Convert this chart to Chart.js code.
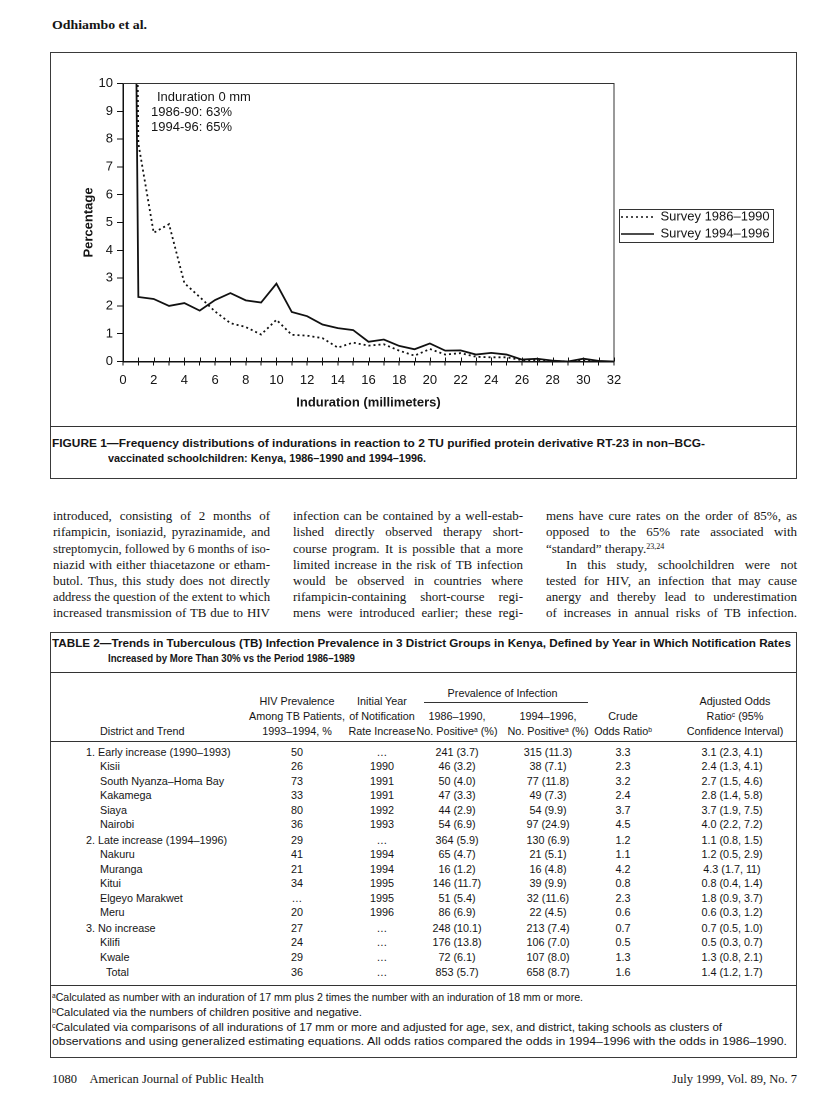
<!DOCTYPE html>
<html><head><meta charset="utf-8">
<script src="https://cdn.jsdelivr.net/npm/chart.js@4.4.0/dist/chart.umd.min.js"></script>
<style>
html,body{margin:0;padding:0;background:#fff;}
#page{position:relative;width:816px;height:1113px;overflow:hidden;background:#fff;color:#151515;}
.abs{position:absolute;white-space:nowrap;}
.frame{position:absolute;border:1.3px solid #3a3a3a;box-sizing:border-box;}
.rule{position:absolute;height:0;border-top:1px solid #333;}
sup{font-size:0.62em;vertical-align:0.5em;line-height:0;}
canvas{position:absolute;}
</style></head>
<body><div id="page">
<div class="frame" id="figbox"></div>
<div class="frame" id="tabbox"></div>
<canvas id="chart"></canvas>
</div>
<script>
// ---------------- DATA ----------------
const indurationMm = [0,1,2,3,4,5,6,7,8,9,10,11,12,13,14,15,16,17,18,19,20,21,22,23,24,25,26,27,28,29,30,31,32];
const survey8690 = [63,7.85,4.63,4.94,2.82,2.32,1.8,1.38,1.24,0.97,1.5,0.96,0.93,0.84,0.5,0.68,0.57,0.62,0.39,0.21,0.45,0.25,0.3,0.17,0.15,0.15,0.05,0.04,0.02,0,0.03,0,0];
const survey9496 = [65,2.32,2.25,2.0,2.1,1.83,2.21,2.46,2.2,2.12,2.8,1.78,1.63,1.33,1.2,1.13,0.71,0.79,0.56,0.44,0.65,0.39,0.4,0.25,0.31,0.25,0.07,0.1,0.03,0,0.1,0.02,0];
const seriesNames = ["Survey 1986\u20131990","Survey 1994\u20131996"];
const yTicks = [0,1,2,3,4,5,6,7,8,9,10];
const xTickLabels = [0,2,4,6,8,10,12,14,16,18,20,22,24,26,28,30,32];

const districts = ["1. Early increase (1990\u20131993)","Kisii","South Nyanza\u2013Homa Bay","Kakamega","Siaya","Nairobi",
 "2. Late increase (1994\u20131996)","Nakuru","Muranga","Kitui","Elgeyo Marakwet","Meru",
 "3. No increase","Kilifi","Kwale","Total"];
const hivPrev = ["50","26","73","33","80","36","29","41","21","34","\u2026","20","27","24","29","36"];
const initYear = ["\u2026","1990","1991","1991","1992","1993","\u2026","1994","1994","1995","1995","1996","\u2026","\u2026","\u2026","\u2026"];
const pos8690 = ["241 (3.7)","46 (3.2)","50 (4.0)","47 (3.3)","44 (2.9)","54 (6.9)","364 (5.9)","65 (4.7)","16 (1.2)","146 (11.7)","51 (5.4)","86 (6.9)","248 (10.1)","176 (13.8)","72 (6.1)","853 (5.7)"];
const pos9496 = ["315 (11.3)","38 (7.1)","77 (11.8)","49 (7.3)","54 (9.9)","97 (24.9)","130 (6.9)","21 (5.1)","16 (4.8)","39 (9.9)","32 (11.6)","22 (4.5)","213 (7.4)","106 (7.0)","107 (8.0)","658 (8.7)"];
const crudeOR = ["3.3","2.3","3.2","2.4","3.7","4.5","1.2","1.1","4.2","0.8","2.3","0.6","0.7","0.5","1.3","1.6"];
const adjOR = ["3.1 (2.3, 4.1)","2.4 (1.3, 4.1)","2.7 (1.5, 4.6)","2.8 (1.4, 5.8)","3.7 (1.9, 7.5)","4.0 (2.2, 7.2)","1.1 (0.8, 1.5)","1.2 (0.5, 2.9)","4.3 (1.7, 11)","0.8 (0.4, 1.4)","1.8 (0.9, 3.7)","0.6 (0.3, 1.2)","0.7 (0.5, 1.0)","0.5 (0.3, 0.7)","1.3 (0.8, 2.1)","1.4 (1.2, 1.7)"];

const col1Lines = ["introduced, consisting of 2 months of","rifampicin, isoniazid, pyrazinamide, and","streptomycin, followed by 6 months of iso-","niazid with either thiacetazone or etham-","butol. Thus, this study does not directly","address the question of the extent to which","increased transmission of TB due to HIV"];
const col2Lines = ["infection can be contained by a well-estab-","lished directly observed therapy short-","course program. It is possible that a more","limited increase in the risk of TB infection","would be observed in countries where","rifampicin-containing short-course regi-","mens were introduced earlier; these regi-"];
const col3Lines = ["mens have cure rates on the order of 85%, as","opposed to the 65% rate associated with","\u201cstandard\u201d therapy.<sup>23,24</sup>","In this study, schoolchildren were not","tested for HIV, an infection that may cause","anergy and thereby lead to underestimation","of increases in annual risks of TB infection."];

// ---------------- LAYOUT HELPERS ----------------
const SANS = "'Liberation Sans', Arial, Helvetica, sans-serif";
const SERIF = "'Liberation Serif', 'Times New Roman', serif";
const page = document.getElementById('page');
function T(html, x, cy, o) {
  o = o || {};
  const d = document.createElement('div');
  d.className = 'abs';
  d.innerHTML = html;
  const size = o.size || 11;
  const lh = size * 1.2;
  d.style.font = (o.weight || 'normal') + ' ' + size + 'px ' + (o.family || SANS);
  d.style.lineHeight = lh + 'px';
  d.style.top = (cy - lh / 2) + 'px';
  d.style.left = '0px';
  page.appendChild(d);
  const w = d.getBoundingClientRect().width;
  let left = x;
  if (o.w) {
    d.style.transformOrigin = '0 50%';
    d.style.transform = 'scaleX(' + (o.w / w) + ')';
  } else if (o.align === 'center') left = x - w / 2;
  else if (o.align === 'right') left = x - w;
  d.style.left = left + 'px';
  return d;
}
function J(html, x, cy, w, size, justify) {
  const d = T(html, x, cy, {size: size, family: SERIF});
  const nw = d.getBoundingClientRect().width;
  const spaces = (d.textContent.match(/ /g) || []).length;
  if (nw > w) { d.style.transformOrigin = '0 50%'; d.style.transform = 'scaleX(' + (w / nw) + ')'; }
  else if (justify && spaces > 0) d.style.wordSpacing = ((w - nw) / spaces) + 'px';
  return d;
}
function box(el, l, t, r, b) { Object.assign(el.style, {left: l + 'px', top: t + 'px', width: (r - l) + 'px', height: (b - t) + 'px'}); }
function rule(l, r, y, c) { const d = document.createElement('div'); d.className = 'rule'; Object.assign(d.style, {left: l + 'px', width: (r - l) + 'px', top: y + 'px'}); if (c) d.style.borderTopColor = c; page.appendChild(d); }

// ---------------- PAGE TEXT ----------------
T("Odhiambo et al.", 52, 25, {size: 13.5, weight: 'bold', family: SERIF, w: 95});
box(document.getElementById('figbox'), 50, 52, 797, 479);
box(document.getElementById('tabbox'), 50, 632, 797, 1058);

// chart annotation
T("Induration 0 mm", 157, 97, {size: 13});
T("1986-90: 63%", 151, 112, {size: 13});
T("1994-96: 65%", 151, 127, {size: 13});

// figure caption
rule(50, 797, 426);
T("FIGURE 1\u2014Frequency distributions of indurations in reaction to 2 TU purified protein derivative RT-23 in non\u2013BCG-", 52, 444, {size: 11, weight: 'bold', w: 653});
T("vaccinated schoolchildren: Kenya, 1986\u20131990 and 1994\u20131996.", 108, 458.5, {size: 11, weight: 'bold', w: 318});

// body columns
const cols = [[53, 270, col1Lines], [293, 523, col2Lines], [546, 797, col3Lines]];
cols.forEach(function (c, ci) {
  c[2].forEach(function (ln, i) {
    let x = c[0], w = c[1] - c[0], just = true;
    if (ci === 2 && i === 2) just = false;
    if (ci === 2 && i === 3) { x += 20; w -= 20; }
    J(ln, x, 516 + i * 16.2, w, 13, just);
  });
});

// table
T("TABLE 2\u2014Trends in Tuberculous (TB) Infection Prevalence in 3 District Groups in Kenya, Defined by Year in Which Notification Rates", 52, 644, {size: 11, weight: 'bold', w: 739});
T("Increased by More Than 30% vs the Period 1986\u20131989", 108, 658.5, {size: 11, weight: 'bold', w: 247});
rule(50, 797, 672);
const cx = {hiv: 297, yr: 382, a: 457, b: 548, cr: 623, adj: 732};
const TS = 10.8;
T("Prevalence of Infection", (cx.a + cx.b) / 2, 693, {size: TS, align: 'center'});
rule(424, 588, 702);
T("HIV Prevalence", cx.hiv, 701.5, {size: TS, align: 'center'});
T("Among TB Patients,", cx.hiv, 716.5, {size: TS, align: 'center'});
T("1993\u20131994, %", cx.hiv, 731, {size: TS, align: 'center'});
T("Initial Year", cx.yr, 701.5, {size: TS, align: 'center'});
T("of Notification", cx.yr, 716.5, {size: TS, align: 'center'});
T("Rate Increase", cx.yr, 731, {size: TS, align: 'center'});
T("1986\u20131990,", cx.a, 716.5, {size: TS, align: 'center'});
T("No. Positive<sup>a</sup> (%)", cx.a, 731, {size: TS, align: 'center'});
T("1994\u20131996,", cx.b, 716.5, {size: TS, align: 'center'});
T("No. Positive<sup>a</sup> (%)", cx.b, 731, {size: TS, align: 'center'});
T("Crude", cx.cr, 716.5, {size: TS, align: 'center'});
T("Odds Ratio<sup>b</sup>", cx.cr, 731, {size: TS, align: 'center'});
T("Adjusted Odds", cx.adj + 3, 701.5, {size: TS, align: 'center'});
T("Ratio<sup>c</sup> (95%", cx.adj + 3, 716.5, {size: TS, align: 'center'});
T("Confidence Interval)", cx.adj + 3, 731, {size: TS, align: 'center'});
T("District and Trend", 100, 731, {size: TS});
rule(50, 797, 741);
const rowY = [752, 766.5, 781, 795.5, 810, 824.5, 840, 854.5, 869, 883.5, 898, 912.5, 928, 942.5, 957, 972];
districts.forEach(function (name, i) {
  const y = rowY[i];
  if (/^\d\./.test(name)) T(name, 86, y, {size: TS});
  else if (name === 'Total') T(name, 106, y, {size: TS});
  else T(name, 100, y, {size: TS});
  T(hivPrev[i], cx.hiv, y, {size: TS, align: 'center'});
  T(initYear[i], cx.yr, y, {size: TS, align: 'center'});
  T(pos8690[i], cx.a, y, {size: TS, align: 'center'});
  T(pos9496[i], cx.b, y, {size: TS, align: 'center'});
  T(crudeOR[i], cx.cr, y, {size: TS, align: 'center'});
  T(adjOR[i], cx.adj, y, {size: TS, align: 'center'});
});
rule(50, 797, 985);
T("<sup>a</sup>Calculated as number with an induration of 17 mm plus 2 times the number with an induration of 18 mm or more.", 52, 997.5, {size: TS, w: 531});
T("<sup>b</sup>Calculated via the numbers of children positive and negative.", 52, 1012, {size: TS, w: 310});
T("<sup>c</sup>Calculated via comparisons of all indurations of 17 mm or more and adjusted for age, sex, and district, taking schools as clusters of", 52, 1027, {size: TS, w: 670});
T("observations and using generalized estimating equations. All odds ratios compared the odds in 1994\u20131996 with the odds in 1986\u20131990.", 52, 1041.5, {size: TS, w: 735});

// footer
T("1080&nbsp;&nbsp;&nbsp;&nbsp;American Journal of Public Health", 52, 1079, {size: 12.5, family: SERIF});
T("July 1999, Vol. 89, No. 7", 797, 1079, {size: 12.5, family: SERIF, align: 'right'});

// ---------------- CHART ----------------
const CX = 51, CY = 56, CW = 745, CH = 366;
const cv = document.getElementById('chart');
cv.width = CW; cv.height = CH;
Object.assign(cv.style, {left: CX + 'px', top: CY + 'px', width: CW + 'px', height: CH + 'px'});
const target = {left: 123 - CX, right: 614 - CX, top: 83.5 - CY, bottom: 361.5 - CY};
const LEGEND_ROW1_Y = 217 - CY;   // centre of first legend row (canvas coords)

const legendShift = {
  id: 'legendShift',
  afterUpdate(chart) {
    const lg = chart.legend;
    if (!lg || !lg.legendHitBoxes || !lg.legendHitBoxes.length) return;
    const h0 = lg.legendHitBoxes[0];
    const dy = (LEGEND_ROW1_Y - h0.height / 2) - h0.top;
    const dx = 3;
    lg.top += dy; lg.bottom += dy; lg.left += dx; lg.right += dx;
    lg.legendHitBoxes.forEach(function (h) { h.top += dy; h.left += dx; });
  }
};

const framePlugin = {
  id: 'framePlugin',
  afterDraw(chart) {
    const ctx = chart.ctx, a = chart.chartArea, xs = chart.scales.x;
    ctx.save();
    ctx.strokeStyle = '#333'; ctx.lineWidth = 1;
    ctx.beginPath();
    ctx.moveTo(a.left, a.top); ctx.lineTo(a.right, a.top); ctx.lineTo(a.right, a.bottom);
    ctx.stroke();
    // inner halves of x tick marks (ticks cross the axis)
    ctx.strokeStyle = '#111'; ctx.lineWidth = 1;
    xs.ticks.forEach(function (t) {
      const px = Math.round(xs.getPixelForValue(t.value)) + 0.5;
      ctx.beginPath(); ctx.moveTo(px, a.bottom - 4); ctx.lineTo(px, a.bottom); ctx.stroke();
    });
    // legend frame
    const hb = chart.legend && chart.legend.legendHitBoxes;
    if (hb && hb.length) {
      let l = Infinity, t = Infinity, r = -Infinity, b = -Infinity;
      hb.forEach(function (h) { l = Math.min(l, h.left); t = Math.min(t, h.top); r = Math.max(r, h.left + h.width); b = Math.max(b, h.top + h.height); });
      ctx.strokeStyle = '#333'; ctx.lineWidth = 1;
      ctx.strokeRect(Math.round(l - 2) + 0.5, Math.round(t - 2) + 0.5, Math.round(r - l + 5), Math.round(b - t + 3));
    }
    ctx.restore();
  }
};

Chart.defaults.font.family = SANS;
Chart.defaults.color = '#151515';
const chart = new Chart(cv, {
  type: 'line',
  data: {
    datasets: [
      {label: seriesNames[0], data: indurationMm.map(function (x, i) { return {x: x, y: survey8690[i]}; }),
       borderColor: '#111', borderWidth: 1.8, borderDash: [2, 3], pointRadius: 0, tension: 0, fill: false},
      {label: seriesNames[1], data: indurationMm.map(function (x, i) { return {x: x, y: survey9496[i]}; }),
       borderColor: '#111', borderWidth: 1.8, pointRadius: 0, tension: 0, fill: false}
    ]
  },
  options: {
    responsive: false, animation: false, devicePixelRatio: 2,
    layout: {padding: {left: 0, right: 0, top: 0, bottom: 0}},
    plugins: {
      tooltip: {enabled: false},
      legend: {position: 'right', align: 'center',
        labels: {usePointStyle: true, pointStyle: 'line', pointStyleWidth: 33, padding: 4,
                 font: {size: 13}, color: '#151515',
                 generateLabels: function (ch) {
                   const items = Chart.defaults.plugins.legend.labels.generateLabels(ch);
                   items.forEach(function (it) {
                     const ds = ch.data.datasets[it.datasetIndex];
                     it.lineDash = ds.borderDash || [];
                     it.lineWidth = 1.5;
                     it.strokeStyle = '#111';
                     it.pointStyle = 'line';
                   });
                   return items;
                 }}}
    },
    scales: {
      x: {type: 'linear', min: 0, max: 32,
          grid: {display: true, drawOnChartArea: false, drawTicks: true, tickLength: 4, color: '#111', lineWidth: 1},
          border: {display: true, color: '#111', width: 1.5},
          ticks: {stepSize: 1, autoSkip: false, maxRotation: 0, padding: 7, font: {size: 13},
                  callback: function (v) { return xTickLabels.indexOf(v) >= 0 ? String(v) : ''; }},
          title: {display: true, text: 'Induration (millimeters)', font: {size: 13, weight: 'bold'}, padding: {top: 0, bottom: 0}}},
      y: {min: 0, max: 10,
          afterBuildTicks: function (s) { s.ticks = yTicks.map(function (v) { return {value: v}; }); },
          grid: {display: true, drawOnChartArea: false, drawTicks: true, tickLength: 6, color: '#111', lineWidth: 1},
          border: {display: true, color: '#111', width: 1.5},
          ticks: {padding: 4, font: {size: 13}},
          title: {display: true, text: 'Percentage', font: {size: 13, weight: 'bold'}, padding: {top: 0, bottom: -2}}}
    }
  },
  plugins: [legendShift, framePlugin]
});
for (let k = 0; k < 3; k++) {
  const a = chart.chartArea, p = chart.options.layout.padding;
  p.left += target.left - a.left;
  p.top += target.top - a.top;
  p.right += a.right - target.right;
  p.bottom += a.bottom - target.bottom;
  chart.update('none');
}
</script>
</body></html>
